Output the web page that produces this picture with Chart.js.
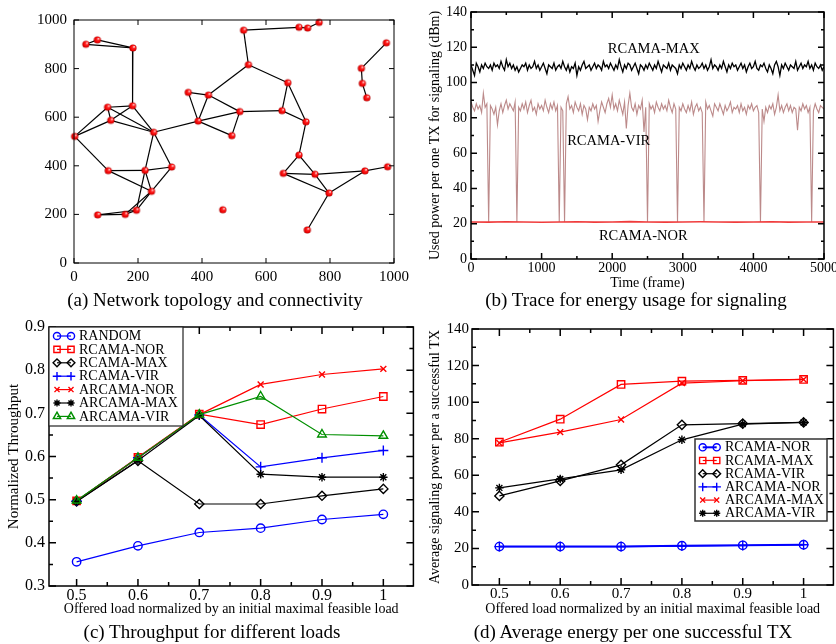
<!DOCTYPE html>
<html><head><meta charset="utf-8">
<script src="https://cdn.jsdelivr.net/npm/chart.js@4.4.0/dist/chart.umd.min.js"></script>
<style>
html,body{margin:0;padding:0;background:#fff;width:836px;height:644px;overflow:hidden;position:relative;font-family:"Liberation Serif",serif;}
canvas{position:absolute;}
.cap{position:absolute;font-size:19px;line-height:19px;white-space:nowrap;transform:translateX(-50%);color:#000;}
</style></head><body>
<canvas id="ca" width="420" height="290" style="left:0;top:0"></canvas>
<canvas id="cb" width="416" height="295" style="left:420px;top:0"></canvas>
<canvas id="cc" width="420" height="312" style="left:0;top:310px"></canvas>
<canvas id="cd" width="420" height="312" style="left:420px;top:310px"></canvas>
<div class="cap" style="left:215px;top:290px">(a) Network topology and connectivity</div>
<div class="cap" style="left:636px;top:290px">(b) Trace for energy usage for signaling</div>
<div class="cap" style="left:212px;top:622px">(c) Throughput for different loads</div>
<div class="cap" style="left:633px;top:622px">(d) Average energy per one successful TX</div>
<script>
// ---------- (a) network topology ----------
const nodeX = [37,73,184,2,105,183,115,249,107,222,305,242,74,160,195,357,420,388,518,493,530,545,703,730,766,465,668,650,725,703,654,753,797,729,909,980,898,901,915,976];
const nodeY = [900,918,885,521,641,647,587,538,380,381,395,295,198,200,217,702,691,584,623,524,958,816,970,967,990,219,742,627,581,444,369,365,288,136,379,396,801,739,680,906];
const edges = [[1,2],[2,3],[1,3],[3,6],[4,5],[4,7],[4,9],[5,6],[5,7],[5,8],[6,7],[6,8],[7,8],
  [8,18],[8,10],[8,11],[9,10],[9,12],[10,11],[10,12],[10,15],[11,12],[12,14],[12,15],[13,14],[13,15],[14,15],
  [16,17],[16,18],[17,18],[17,19],[17,22],[18,19],[18,20],[19,20],[19,28],
  [21,22],[21,23],[23,24],[24,25],[22,27],[27,28],[27,29],[28,29],[29,30],[30,31],[30,32],[31,32],[31,33],[32,33],
  [33,34],[32,35],[33,35],[35,36],[37,40],[37,38],[38,39]];
const aTicks = [0,200,400,600,800,1000];

// ---------- (b) trace ----------
const frameStep = 25;
const maxTrace = [110,107,104,111,109,106,110,108,111,109, 108,110,107,111,109,110,108,112,109,107,
 113,109,111,108,110,107,109,106,108,110, 109,111,107,110,108,109,112,108,110,107,
 109,111,108,105,110,109,108,111,107,109, 110,108,112,109,107,110,106,109,108,111,
 104,109,107,110,112,108,109,110,107,109, 111,108,110,109,107,112,109,110,108,111,
 109,107,110,108,113,109,106,110,108,111, 110,107,109,111,108,105,110,109,107,110,
 108,111,109,107,110,108,112,109,106,110, 109,108,111,107,110,109,108,105,110,108,
 111,109,107,110,108,112,109,107,110,108, 109,111,108,110,107,109,113,108,110,109,
 107,110,108,112,109,106,110,108,111,109, 110,107,109,111,108,110,106,109,111,108,
 109,112,108,107,110,109,111,108,106,110, 108,105,110,112,109,104,110,108,111,109,
 107,110,109,108,112,107,109,111,108,110, 109,112,108,110,107,111,109,108,110,107, 109];
const virTrace = [89,86,84,88,85,87,83,94,86,88, 21,87,85,82,86,76,84,88,83,87,
 90,85,88,86,84,89,21,86,84,88, 85,89,83,87,90,84,86,82,88,85,
 87,84,90,86,83,88,85,89,84,87, 21,86,84,21,88,92,85,87,83,89,
 86,84,88,82,87,85,79,86,84,88, 85,87,78,84,89,86,83,88,91,86,
 93,85,88,84,90,86,82,89,74,87, 94,86,84,88,82,87,85,90,72,86,
 21,88,85,87,83,89,86,84,88,85, 87,84,90,86,83,88,85,21,86,84,
 88,85,83,87,84,89,82,86,88,84, 86,83,21,89,85,87,84,81,88,86,
 84,88,85,82,87,84,86,89,83,86, 85,87,83,88,84,86,82,87,85,88,
 84,86,87,83,21,85,78,86,83,87, 85,88,82,86,93,84,87,83,86,88,
 84,87,83,86,85,73,86,84,88,85, 87,83,86,21,84,88,85,83,87,86, 85];
const norFrames = [0,250,500,750,1000,1250,1500,1750,2000,2250,2500,2750,3000,3250,3500,3750,4000,4250,4500,4750,5000];
const norTrace = [21,20.9,21.1,21,20.8,21,21.1,20.9,21,21.2,21,20.9,21,21.1,21,20.9,21,21.1,20.9,21,21];
const bXTicks = [0,1000,2000,3000,4000,5000];
const bXMinor = [500,1500,2500,3500,4500];
const bYTicks = [0,20,40,60,80,100,120,140];
const bYMinor = [10,30,50,70,90,110,130];

// ---------- (c) throughput ----------
const loads = [0.5,0.6,0.7,0.8,0.9,1.0];
const thrRandom  = [0.356,0.393,0.424,0.434,0.454,0.466];
const thrRNor    = [0.497,0.598,0.698,0.674,0.710,0.739];
const thrRMax    = [0.496,0.590,0.490,0.490,0.509,0.525];
const thrRVir    = [0.497,0.597,0.696,0.576,0.597,0.614];
const thrANor    = [0.497,0.597,0.697,0.767,0.790,0.803];
const thrAMax    = [0.496,0.591,0.695,0.559,0.552,0.552];
const thrAVir    = [0.498,0.597,0.697,0.739,0.651,0.648];
const loadTicks  = [0.5,0.6,0.7,0.8,0.9,1.0];
const loadLabels = ['0.5','0.6','0.7','0.8','0.9','1'];
const loadMinor  = [0.55,0.65,0.75,0.85,0.95];
const cYTicks = [0.3,0.4,0.5,0.6,0.7,0.8,0.9];
const cYLabels = ['0.3','0.4','0.5','0.6','0.7','0.8','0.9'];
const cYMinor = [0.35,0.45,0.55,0.65,0.75,0.85];

// ---------- (d) energy ----------
const enRNor = [21,21,21,21.5,21.7,22];
const enRMax = [78.1,90.7,109.7,111.5,111.9,112.4];
const enRVir = [48.7,56.9,65.7,87.6,88.3,88.9];
const enANor = [21,21,21,21.3,21.6,22];
const enAMax = [77.7,83.6,90.5,110.4,111.7,112.4];
const enAVir = [53.1,58.0,63.0,79.4,88.0,88.9];
const dYTicks = [0,20,40,60,80,100,120,140];
const dYMinor = [10,30,50,70,90,110,130];

// ================= drawing =================
Chart.defaults.font.family = "'Liberation Serif', 'Times New Roman', serif";
Chart.defaults.color = '#000';
Chart.defaults.animation = false;
Chart.defaults.plugins.legend.display = false;
Chart.defaults.plugins.tooltip.enabled = false;

const framePlugin = {
  id: 'frame',
  afterDatasetsDraw(chart, args, o) {
    const {ctx, chartArea: a} = chart; const sx = chart.scales.x, sy = chart.scales.y;
    ctx.save(); ctx.strokeStyle = '#000'; ctx.lineWidth = o.lw;
    ctx.beginPath();
    const xt = (vals, len) => vals.forEach(v => { const p = sx.getPixelForValue(v);
      ctx.moveTo(p, a.bottom); ctx.lineTo(p, a.bottom - len); ctx.moveTo(p, a.top); ctx.lineTo(p, a.top + len); });
    const yt = (vals, len) => vals.forEach(v => { const p = sy.getPixelForValue(v);
      ctx.moveTo(a.left, p); ctx.lineTo(a.left + len, p); ctx.moveTo(a.right, p); ctx.lineTo(a.right - len, p); });
    xt(o.xMajor, o.majorLen); xt(o.xMinor || [], o.minorLen);
    yt(o.yMajor, o.majorLen); yt(o.yMinor || [], o.minorLen);
    ctx.stroke();
    ctx.strokeRect(a.left, a.top, a.right - a.left, a.bottom - a.top);
    ctx.restore();
  }
};

const boxLegend = {
  id: 'boxLegend',
  afterDraw(chart, args, o) {
    if (!o.show) return;
    const {ctx, chartArea: a} = chart;
    const x0 = a.left + o.dx, y0 = a.top + o.dy;
    ctx.save();
    ctx.fillStyle = '#fff'; ctx.fillRect(x0, y0, o.w, o.h);
    ctx.strokeStyle = o.border; ctx.lineWidth = o.lw; ctx.strokeRect(x0, y0, o.w, o.h);
    chart.data.datasets.forEach((ds, i) => {
      const y = y0 + o.first + i * o.row;
      ctx.strokeStyle = ds.borderColor; ctx.lineWidth = ds.borderWidth;
      ctx.beginPath(); ctx.moveTo(x0 + o.s1, y); ctx.lineTo(x0 + o.s2, y); ctx.stroke();
      ctx.strokeStyle = ds.pointBorderColor; ctx.fillStyle = 'rgba(0,0,0,0)'; ctx.lineWidth = ds.pointBorderWidth;
      const po = {pointStyle: ds.pointStyle, radius: ds.pointRadius * 0.85, borderWidth: ds.pointBorderWidth, rotation: 0};
      Chart.helpers.drawPoint(ctx, po, x0 + o.s1, y);
      Chart.helpers.drawPoint(ctx, po, x0 + o.s2, y);
      ctx.fillStyle = '#000'; ctx.font = o.font; ctx.textBaseline = 'middle'; ctx.textAlign = 'left';
      ctx.fillText(ds.label, x0 + o.tx, y + 0.5);
    });
    ctx.restore();
  }
};

const annotPlugin = {
  id: 'annot',
  afterDatasetsDraw(chart, args, o) {
    if (!o.items) return;
    const {ctx} = chart;
    ctx.save(); ctx.fillStyle = '#000'; ctx.font = o.font; ctx.textAlign = 'center'; ctx.textBaseline = 'middle';
    o.items.forEach(it => ctx.fillText(it.t, chart.scales.x.getPixelForValue(it.x), chart.scales.y.getPixelForValue(it.y)));
    ctx.restore();
  }
};

function axis(pos, size, min, max, ticks, labels, fontSize, pad, title) {
  return {
    type: 'linear', position: pos, min, max,
    grid: {display: false, drawTicks: false},
    border: {display: false},
    afterBuildTicks: s => { s.ticks = ticks.map(v => ({value: v})); },
    ticks: {callback: (v, i) => labels[i], font: {size: fontSize}, color: '#000', padding: pad, maxRotation: 0, minRotation: 0, autoSkip: false},
    afterFit: s => { if (pos === 'left') s.width = size; else s.height = size;
      s.paddingLeft = 0; s.paddingRight = 0; s.paddingTop = 0; s.paddingBottom = 0; },
    title: title || {display: false}
  };
}

// ---- chart (a)
function ballImg(r) {
  const c = document.createElement('canvas'); const s = Math.ceil(r * 2 + 2); c.width = c.height = s;
  const g = c.getContext('2d'); const m = s / 2;
  const gr = g.createRadialGradient(m + r * 0.35, m - r * 0.35, 0.2, m, m, r);
  gr.addColorStop(0, '#ffffff'); gr.addColorStop(0.3, '#ff2a2a'); gr.addColorStop(0.75, '#f00000'); gr.addColorStop(1, '#a80000');
  g.fillStyle = gr; g.beginPath(); g.arc(m, m, r, 0, Math.PI * 2); g.fill();
  return c;
}
const ball = ballImg(3.6);
const netSets = [{
  data: nodeX.map((x, i) => ({x, y: nodeY[i]})), pointStyle: ball, pointRadius: 4, showLine: false
}];
edges.forEach(([p, q]) => netSets.push({
  data: [{x: nodeX[p - 1], y: nodeY[p - 1]}, {x: nodeX[q - 1], y: nodeY[q - 1]}],
  showLine: true, borderColor: '#000', borderWidth: 1.2, pointRadius: 0
}));
new Chart(document.getElementById('ca'), {
  type: 'scatter', data: {datasets: netSets},
  options: {
    responsive: false, layout: {padding: {left: 0, top: 20, right: 26, bottom: 0}},
    scales: {
      x: axis('bottom', 27, 0, 1000, aTicks, aTicks.map(String), 15, 5),
      y: axis('left', 74, 0, 1000, aTicks, aTicks.map(String), 15, 7)
    },
    plugins: {frame: {lw: 1, xMajor: aTicks, yMajor: aTicks, majorLen: 5, minorLen: 0}},
    clip: false
  },
  plugins: [framePlugin]
});

// ---- chart (b)
const frames = maxTrace.map((_, i) => i * frameStep);
new Chart(document.getElementById('cb'), {
  type: 'scatter',
  data: {datasets: [
    {data: frames.map((f, i) => ({x: f, y: maxTrace[i]})), showLine: true, borderColor: '#000', borderWidth: 1.3, pointRadius: 0},
    {data: norFrames.map((f, i) => ({x: f, y: norTrace[i]})), showLine: true, borderColor: '#f03c3c', borderWidth: 1.6, pointRadius: 0},
    {data: frames.map((f, i) => ({x: f, y: virTrace[i]})), showLine: true, borderColor: '#bc8a8a', borderWidth: 1.1, pointRadius: 0}
  ]},
  options: {
    responsive: false, layout: {padding: {left: 0, top: 12, right: 12, bottom: 0}},
    scales: {
      x: axis('bottom', 36, 0, 5000, bXTicks, bXTicks.map(String), 14, 1,
        {display: true, text: 'Time (frame)', font: {size: 14}, padding: {top: 0, bottom: 3.6}}),
      y: axis('left', 51, 0, 140, bYTicks, bYTicks.map(String), 14, 4,
        {display: true, text: 'Used power per one TX for signaling (dBm)', font: {size: 14}, padding: {top: 6.6, bottom: 0}})
    },
    plugins: {
      frame: {lw: 1.5, xMajor: bXTicks, xMinor: bXMinor, yMajor: bYTicks, yMinor: bYMinor, majorLen: 6, minorLen: 3},
      annot: {font: '14.5px "Liberation Serif"', items: [
        {t: 'RCAMA-MAX', x: 2588, y: 119}, {t: 'RCAMA-VIR', x: 1950, y: 67}, {t: 'RCAMA-NOR', x: 2440, y: 13}]}
    }
  },
  plugins: [framePlugin, annotPlugin]
});

// ---- chart (c) and (d)
function ser(label, ys, color, style, r, lw, order) {
  return {label, data: loads.map((x, i) => ({x, y: ys[i]})), borderColor: color, pointBorderColor: color,
    pointBackgroundColor: 'rgba(0,0,0,0)', pointStyle: style, pointRadius: r, pointBorderWidth: 1.4,
    borderWidth: lw, showLine: true, order};
}
const BLUE = '#0000ff', RED = '#ff0000', BLACK = '#000000', GREEN = '#008f00';
new Chart(document.getElementById('cc'), {
  type: 'scatter',
  data: {datasets: [
    ser('RANDOM', thrRandom, BLUE, 'circle', 4.2, 1.2, 7),
    ser('RCAMA-NOR', thrRNor, RED, 'rect', 5.2, 1.2, 6),
    ser('RCAMA-MAX', thrRMax, BLACK, 'rectRot', 4.6, 1.2, 5),
    ser('RCAMA-VIR', thrRVir, BLUE, 'cross', 5, 1.2, 4),
    ser('ARCAMA-NOR', thrANor, RED, 'crossRot', 4.2, 1.2, 3),
    ser('ARCAMA-MAX', thrAMax, BLACK, 'star', 4.2, 1.2, 2),
    ser('ARCAMA-VIR', thrAVir, GREEN, 'triangle', 5, 1.2, 1)
  ]},
  options: {
    responsive: false, layout: {padding: {left: 0, top: 17, right: 3, bottom: 0}},
    scales: {
      x: axis('bottom', 36, 0.455, 1.049, loadTicks, loadLabels, 16, 0,
        {display: true, text: 'Offered load normalized by an initial maximal feasible load', font: {size: 14}, padding: {top: 0, bottom: 4.6}}),
      y: axis('left', 49, 0.3, 0.9, cYTicks, cYLabels, 16, 4,
        {display: true, text: 'Normalized Throughput', font: {size: 15}, padding: {top: 5, bottom: 0}})
    },
    plugins: {
      frame: {lw: 1.5, xMajor: loadTicks, xMinor: loadMinor, yMajor: cYTicks, yMinor: cYMinor, majorLen: 7, minorLen: 4},
      boxLegend: {show: true, dx: 0, dy: 0, w: 134, h: 99, border: '#222', lw: 1.2, first: 9, row: 13.4, s1: 8, s2: 22, tx: 30,
        font: '14px "Liberation Serif"'}
    }
  },
  plugins: [framePlugin, boxLegend]
});

new Chart(document.getElementById('cd'), {
  type: 'scatter',
  data: {datasets: [
    ser('RCAMA-NOR', enRNor, BLUE, 'circle', 4.2, 2, 6),
    ser('RCAMA-MAX', enRMax, RED, 'rect', 5.2, 1.2, 5),
    ser('RCAMA-VIR', enRVir, BLACK, 'rectRot', 4.6, 1.2, 4),
    ser('ARCAMA-NOR', enANor, BLUE, 'cross', 5, 1.2, 3),
    ser('ARCAMA-MAX', enAMax, RED, 'crossRot', 4.2, 1.2, 2),
    ser('ARCAMA-VIR', enAVir, BLACK, 'star', 4.2, 1.2, 1)
  ]},
  options: {
    responsive: false, layout: {padding: {left: 0, top: 19, right: 3, bottom: 0}},
    scales: {
      x: axis('bottom', 37, 0.455, 1.049, loadTicks, loadLabels, 15, 0,
        {display: true, text: 'Offered load normalized by an initial maximal feasible load', font: {size: 14}, padding: {top: 0, bottom: 4.6}}),
      y: axis('left', 52, 0, 140, dYTicks, dYTicks.map(String), 15, 3,
        {display: true, text: 'Average signaling power per a successful TX', font: {size: 14}, padding: {top: 6.6, bottom: 0}})
    },
    plugins: {
      frame: {lw: 1.5, xMajor: loadTicks, xMinor: loadMinor, yMajor: dYTicks, yMinor: dYMinor, majorLen: 7, minorLen: 4},
      boxLegend: {show: true, dx: 223, dy: 110, w: 132, h: 82, border: '#333', lw: 1.5, first: 8.3, row: 13.2, s1: 7.7, s2: 21.7, tx: 30,
        font: '14px "Liberation Serif"'}
    }
  },
  plugins: [framePlugin, boxLegend]
});
</script>
</body></html>
